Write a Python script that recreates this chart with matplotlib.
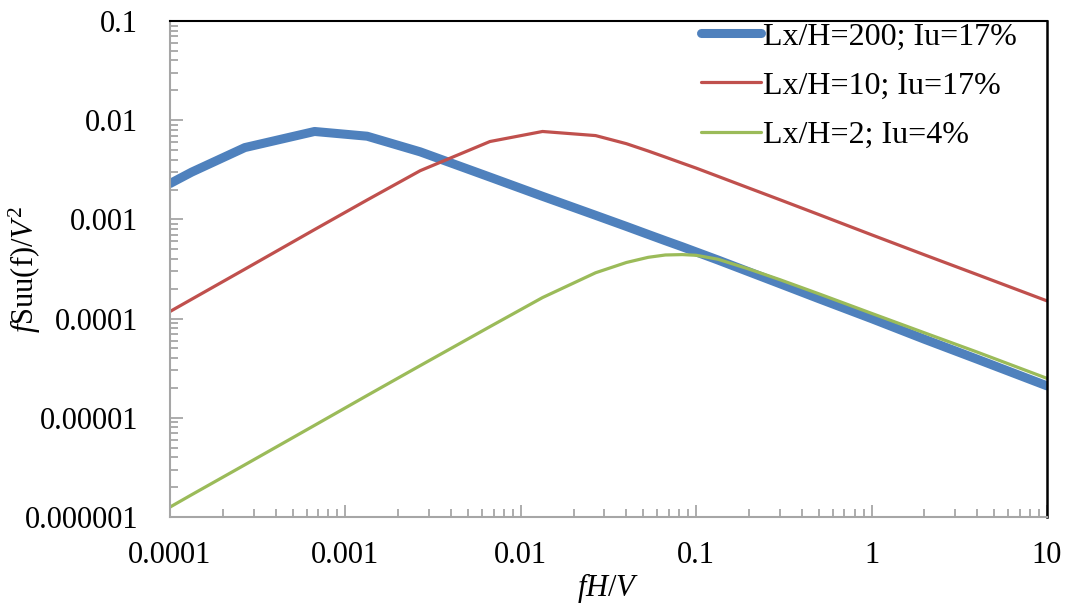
import numpy as np
import matplotlib
matplotlib.use("Agg")
import matplotlib.pyplot as plt
from matplotlib.ticker import LogLocator, NullFormatter, FixedLocator, FixedFormatter

plt.rcParams['font.family'] = ['Liberation Serif', 'DejaVu Serif']
plt.rcParams['mathtext.fontset'] = 'custom'
plt.rcParams['mathtext.rm'] = 'Liberation Serif'
plt.rcParams['mathtext.it'] = 'Liberation Serif:italic'

# frecuencia reducida fH/V
fH = [1e-4, 1.33e-4, 2.67e-4, 6.67e-4, 1.33e-3, 2.67e-3, 6.67e-3, 1.33e-2,
      2.67e-2, 4e-2, 5.33e-2, 6.67e-2, 8.33e-2, 0.1, 0.133, 0.2, 0.3, 0.5,
      1, 2, 4, 10]

# espectros fSuu/V^2
s_200 = [2.3e-3, 3.0e-3, 5.3e-3, 7.7e-3, 6.9e-3, 4.8e-3, 2.67e-3, 1.71e-3,
         1.1e-3, 8.5e-4, 7.05e-4, 6.1e-4, 5.3e-4, 4.7e-4, 3.9e-4, 2.96e-4,
         2.25e-4, 1.59e-4, 1.0e-4, 6.2e-5, 3.9e-5, 2.1e-5]
s_10 = [1.18e-4, 1.57e-4, 3.15e-4, 7.9e-4, 1.57e-3, 3.1e-3, 6.1e-3, 7.7e-3,
        7.0e-3, 5.8e-3, 4.89e-3, 4.25e-3, 3.69e-3, 3.29e-3, 2.72e-3, 2.07e-3,
        1.58e-3, 1.12e-3, 7.0e-4, 4.4e-4, 2.78e-4, 1.51e-4]
s_2 = [1.26e-6, 1.68e-6, 3.36e-6, 8.4e-6, 1.68e-5, 3.36e-5, 8.3e-5, 1.63e-4,
       2.9e-4, 3.68e-4, 4.15e-4, 4.38e-4, 4.42e-4, 4.35e-4, 3.97e-4, 3.16e-4,
       2.47e-4, 1.78e-4, 1.13e-4, 7.2e-5, 4.6e-5, 2.5e-5]

series_names = ['Lx/H=200; Iu=17%', 'Lx/H=10; Iu=17%', 'Lx/H=2; Iu=4%']

xticks = [1e-4, 1e-3, 1e-2, 1e-1, 1, 10]
xlabels = ['0.0001', '0.001', '0.01', '0.1', '1', '10']
yticks = [1e-6, 1e-5, 1e-4, 1e-3, 1e-2, 1e-1]
ylabels = ['0.000001', '0.00001', '0.0001', '0.001', '0.01', '0.1']

fig = plt.figure(figsize=(10.68, 6.11), dpi=100)
ax = fig.add_axes([0.1592, 0.1538, 0.8211, 0.8118])

ax.plot(fH, s_200, color='#4F81BD', lw=6.5, solid_capstyle='round',
        solid_joinstyle='round', label=series_names[0])
ax.plot(fH, s_10, color='#C0504D', lw=2.3, solid_capstyle='round', label=series_names[1])
ax.plot(fH, s_2, color='#9BBB59', lw=2.3, solid_capstyle='round', label=series_names[2])

ax.set_xscale('log')
ax.set_yscale('log')
ax.set_xlim(1e-4, 10)
ax.set_ylim(1e-6, 0.1)

ax.xaxis.set_major_locator(FixedLocator(xticks))
ax.xaxis.set_major_formatter(FixedFormatter(xlabels))
ax.yaxis.set_major_locator(FixedLocator(yticks))
ax.yaxis.set_major_formatter(FixedFormatter(ylabels))
for axis in (ax.xaxis, ax.yaxis):
    axis.set_minor_locator(LogLocator(base=10, subs=np.arange(2, 10), numticks=20))
    axis.set_minor_formatter(NullFormatter())

gris = '#A6A6A6'
ax.tick_params(which='both', direction='in', color=gris, width=1.3,
               top=False, right=False)
ax.tick_params(which='major', length=9, labelsize=22)
ax.tick_params(which='minor', length=6)
ypad = 23
xpad = 14
ax.yaxis.set_tick_params(which='major', pad=ypad)
ax.xaxis.set_tick_params(which='major', pad=xpad)

ax.spines['left'].set_color(gris)
ax.spines['bottom'].set_color(gris)
ax.spines['left'].set_linewidth(1.5)
ax.spines['bottom'].set_linewidth(1.5)
ax.spines['top'].set_color('black')
ax.spines['right'].set_color('black')
ax.spines['top'].set_linewidth(1.5)
ax.spines['right'].set_linewidth(1.8)

# etiquetas de los ejes
ax.set_xlabel(r'$fH/V$', fontsize=22)
ax.set_ylabel(r'$f\mathrm{Suu(f)/}V^{2}$', fontsize=22)
ax.xaxis.set_label_coords(0.5, -0.108)
ax.yaxis.set_label_coords(-0.145, 0.5)

ley = ax.legend(loc='upper left', bbox_to_anchor=(0.606, 0.998), frameon=False,
                fontsize=23, handlelength=1.85, handletextpad=0.08,
                labelspacing=0.62, borderaxespad=0.0, borderpad=0.0)

# ajustar la separacion de las etiquetas de los ticks (medido en pixeles)
fig.canvas.draw()
rend = fig.canvas.get_renderer()
H = fig.bbox.height
bb_y = ax.yaxis.get_majorticklabels()[-1].get_window_extent(rend)
ypad += (bb_y.x1 - 138) * 72 / fig.dpi
bb_x = ax.xaxis.get_majorticklabels()[0].get_window_extent(rend)
xpad += ((H - bb_x.y1) - 541) * -72 / fig.dpi
ax.yaxis.set_tick_params(which='major', pad=ypad)
ax.xaxis.set_tick_params(which='major', pad=xpad)

fig.savefig('out.png', dpi=100)
